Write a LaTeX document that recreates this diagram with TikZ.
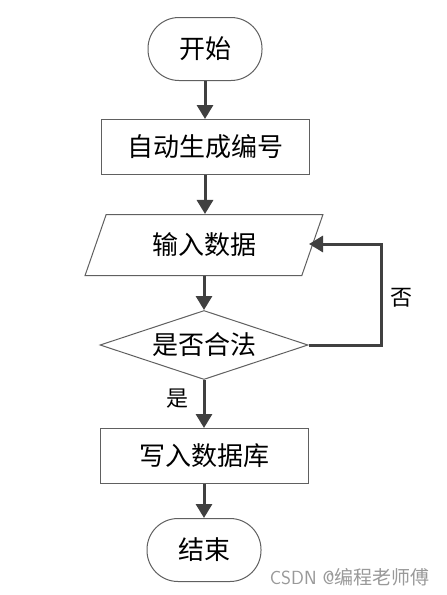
\documentclass[tikz,border=0pt]{standalone}
\usepackage{fontspec}
\newfontfamily\cjk{Noto Sans CJK SC}
\usetikzlibrary{arrows.meta,shapes.geometric}
\definecolor{arrowc}{HTML}{404040}
\definecolor{edgec}{HTML}{606060}
\tikzset{
  every node/.style={font=\cjk\fontsize{26}{28}\selectfont},
  term/.style={draw=edgec,line width=1pt,rounded corners=31pt,minimum width=114pt,minimum height=63pt,inner sep=0pt},
  proc/.style={draw=edgec,line width=1pt,minimum width=208pt,minimum height=55pt,inner sep=0pt},
  io/.style={draw=edgec,line width=1pt,trapezium,trapezium left angle=65,trapezium right angle=115,minimum width=238pt,minimum height=61pt,inner sep=0pt,trapezium stretches=true},
  dec/.style={draw=edgec,line width=1pt,diamond,minimum width=208pt,minimum height=69pt,inner sep=0pt,aspect=3},
  flow/.style={draw=arrowc,line width=3pt,-{Triangle[length=14pt,width=16pt]}},
  lbl/.style={font=\cjk\fontsize{22}{24}\selectfont}
}
\begin{document}
\begin{tikzpicture}[x=1pt,y=-1pt]
\useasboundingbox[fill=white] (0,0) rectangle (447,595);
\node[term] (start) at (205,49) {开始};
\node[proc] (gen) at (205,147) {自动生成编号};
\node[io] (inp) at (204,245) {输入数据};
\node[dec] (chk) at (204,345) {是否合法};
\node[proc] (wr) at (204,456) {写入数据库};
\node[term] (end) at (204,550) {结束};
\draw[flow] (start) -- (gen);
\draw[flow] (gen.south) -- (gen.south |- inp.north);
\draw[flow] (inp.south -| chk.north) -- (chk);
\draw[flow] (chk) -- (wr);
\draw[flow] (wr) -- (end);
\coordinate (c1) at (381,345);
\coordinate (c2) at (381,244);
\coordinate (c3) at (309,244);
\draw[flow] (chk.east) -- (c1) -- (c2) -- (c3);
\node[lbl] (no) at (401,298) {否};
\node[lbl] (yes) at (177,399) {是};
\node[font=\fontsize{19}{20}\selectfont\sffamily,text=gray!80,anchor=east] (wm) at (433,577) {CSDN @{\cjk 编程老师傅}};
\end{tikzpicture}
\end{document}
